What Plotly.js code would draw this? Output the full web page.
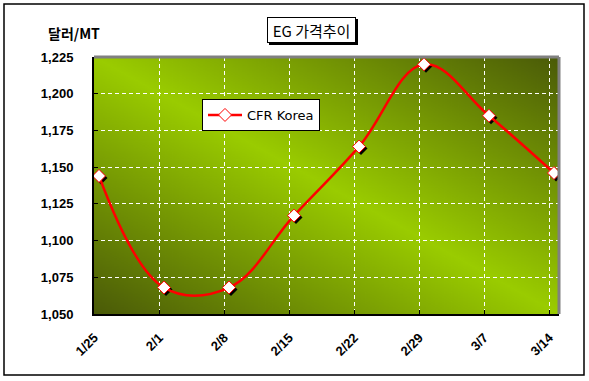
<!DOCTYPE html>
<html>
<head>
<meta charset="utf-8">
<script src="https://cdn.plot.ly/plotly-3.0.1.min.js"></script>
<style>
html,body{margin:0;padding:0;background:#fff;}
#chart{width:589px;height:381px;}
</style>
</head>
<body>
<div id="chart"></div>
<script>
// ---- data ----
var dates = ['1/25', '2/1', '2/8', '2/15', '2/22', '2/29', '3/7', '3/14'];
var dayOffsets = [0, 7, 14, 21, 28, 35, 42, 49];
var cfrKorea = [1144, 1068, 1068, 1117, 1164, 1220, 1185, 1146];
var yTicks = [1050, 1075, 1100, 1125, 1150, 1175, 1200, 1225];
var seriesName = 'CFR Korea';
var chartTitle = 'EG 가격추이';
var yUnit = '달러/MT';

// ---- background gradient (plot area) ----
function makeGradient() {
  var c = document.createElement('canvas');
  c.width = 400; c.height = 400;
  var g = c.getContext('2d');
  var gr = g.createLinearGradient(400, 0, 0, 400);
  gr.addColorStop(0, '#4a5a08');
  gr.addColorStop(0.5, '#9acc00');
  gr.addColorStop(1, '#4a5a08');
  g.fillStyle = gr;
  g.fillRect(0, 0, 400, 400);
  return c.toDataURL('image/png');
}

// plot area pixel geometry helpers (for decorations only)
var L = 94, R = 559, T = 57, B = 314;
function px(x) { return (x - L) / (R - L); }
function py(y) { return (B - y) / (B - T); }

var tickPos = dayOffsets.map(function (d) { return d - 0.5; });
var dayPerPx = 7 / 65, valPerPx = 175 / 257;

var shadow = {
  x: dayOffsets.map(function (d) { return d + 2 * dayPerPx; }),
  y: cfrKorea.map(function (v) { return v - 2 * valPerPx; }),
  mode: 'markers', type: 'scatter', showlegend: false, hoverinfo: 'skip',
  marker: { symbol: 'diamond', size: 10, color: '#000' }
};
var main = {
  x: dayOffsets, y: cfrKorea, name: seriesName,
  mode: 'lines+markers', type: 'scatter',
  line: { color: '#ff0000', width: 2.5, shape: 'spline', smoothing: 1.1 },
  marker: { symbol: 'diamond', size: 10, color: '#ffffff', line: { color: '#ff0000', width: 1 } }
};

var boldFont = { family: 'Arial, "Liberation Sans", sans-serif', size: 13, color: '#000', weight: 'bold' };

var layout = {
  width: 589, height: 381,
  margin: { l: L, r: 589 - R, t: T, b: 381 - B },
  paper_bgcolor: '#ffffff',
  plot_bgcolor: 'rgba(0,0,0,0)',
  showlegend: true,
  legend: {
    x: px(202), y: py(99), xanchor: 'left', yanchor: 'top',
    bgcolor: '#ffffff', bordercolor: '#000', borderwidth: 1,
    font: { family: '"DejaVu Sans", Arial, sans-serif', size: 13, color: '#000' },
    itemwidth: 34
  },
  xaxis: {
    range: [-0.54, 49.54], tickmode: 'array', tickvals: tickPos, ticktext: dates,
    tickangle: -45, tickfont: { family: 'Arial, "Liberation Sans", sans-serif', size: 13, color: '#000', weight: 'bold' },
    showgrid: true, gridcolor: '#ffffff', griddash: '4px,3px', gridwidth: 1,
    showline: true, linecolor: '#000', linewidth: 2,
    ticks: 'inside', ticklen: 4, tickcolor: '#000', ticklabelstandoff: 9,
    zeroline: false, fixedrange: true
  },
  yaxis: {
    range: [1050, 1225], tickmode: 'array', tickvals: yTicks, tickformat: ',d',
    tickfont: boldFont,
    showgrid: true, gridcolor: '#ffffff', griddash: '4px,3px', gridwidth: 1,
    showline: true, linecolor: '#000', linewidth: 2,
    ticks: 'inside', ticklen: 4, tickcolor: '#000', ticklabelstandoff: 16,
    zeroline: false, fixedrange: true
  },
  images: [{
    source: makeGradient(), xref: 'paper', yref: 'paper',
    x: 0, y: 1, sizex: 1, sizey: 1, sizing: 'stretch', layer: 'below', xanchor: 'left', yanchor: 'top'
  }],
  shapes: [
    // outer chart frame
    { type: 'rect', xref: 'paper', yref: 'paper', x0: px(4), x1: px(584), y0: py(375), y1: py(4),
      line: { color: '#000', width: 1.5 }, fillcolor: 'rgba(0,0,0,0)', layer: 'below' },
    // plot area top/right border (gray)
    { type: 'line', xref: 'paper', yref: 'paper', x0: 0, x1: 1, y0: 1, y1: 1, line: { color: '#808080', width: 3 } },
    { type: 'line', xref: 'paper', yref: 'paper', x0: 1, x1: 1, y0: 0, y1: 1, line: { color: '#808080', width: 3 } },
    // title box shadow
    { type: 'rect', xref: 'paper', yref: 'paper', x0: px(269), x1: px(358), y0: py(45), y1: py(19),
      line: { width: 0 }, fillcolor: '#000', layer: 'above' }
  ],
  annotations: [
    { text: chartTitle, xref: 'paper', yref: 'paper', x: px(311.5), y: py(30),
      xanchor: 'center', yanchor: 'middle', showarrow: false,
      font: { family: '"Noto Sans CJK KR", Arial, sans-serif', size: 15, color: '#000' },
      bgcolor: '#ffffff', bordercolor: '#000', borderwidth: 1, borderpad: 0, width: 87, height: 24 },
    { text: yUnit, xref: 'paper', yref: 'paper', x: px(46), y: py(33),
      xanchor: 'left', yanchor: 'middle', showarrow: false,
      font: { family: '"Noto Sans CJK KR", Arial, sans-serif', size: 14, color: '#000', weight: 'bold' } }
  ]
};

Plotly.newPlot('chart', [shadow, main], layout, { displayModeBar: false, staticPlot: true });
</script>
</body>
</html>
